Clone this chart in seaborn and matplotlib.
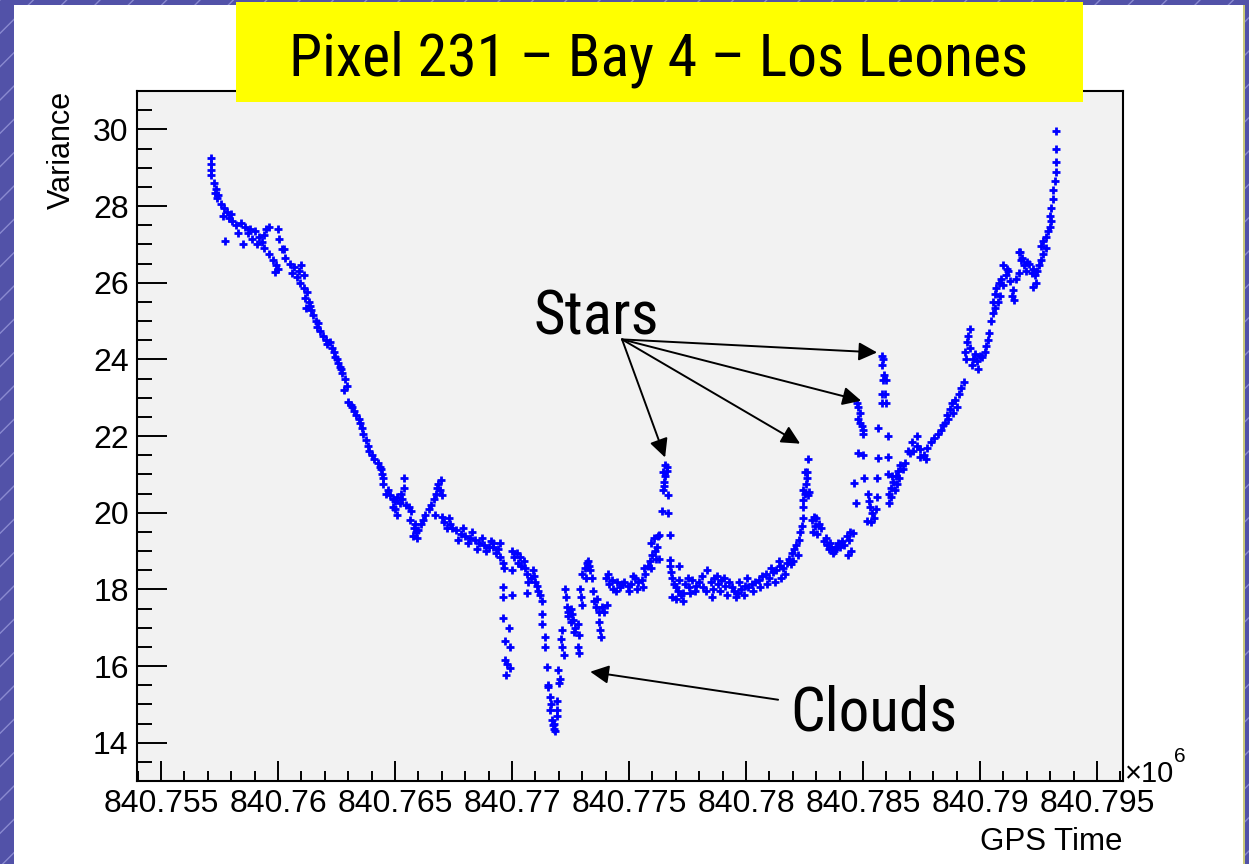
import numpy as np
import pandas as pd
import matplotlib
matplotlib.use("Agg")
import matplotlib.pyplot as plt
import matplotlib.font_manager as fm
from matplotlib.patches import Rectangle
from matplotlib.ticker import FixedLocator, MultipleLocator, FuncFormatter
import seaborn as sns

# GPS time is stored as seconds after 840,755,000 ; variance in ADC^2
GPS_BASE = 840755000

seg_descent = [
    (2130, 29.25), (2130, 29.1), (2130, 28.95), (2150, 28.8), (2250, 28.6), (2350, 28.45), (2300, 28.35),
    (2450, 28.3), (2400, 28.2), (2550, 28.05), (2700, 27.95), (2800, 27.85), (2650, 27.75), (2900, 27.7),
    (3000, 27.8), (2730, 27.08), (3500, 27.02), (3050, 27.6), (3200, 27.5), (3400, 27.55), (3600, 27.45),
    (3800, 27.4), (3300, 27.3), (3700, 27.3), (4000, 27.35), (4200, 27.2), (4400, 27.25), (4100, 27.0),
    (4300, 27.05), (4500, 27.4), (4600, 27.45), (3900, 27.15), (4400, 26.9), (4600, 26.75), (4800, 26.6),
    (4900, 26.45), (5000, 26.35), (4870, 26.27), (5000, 27.39), (5050, 27.13), (5150, 26.87), (5250, 26.87),
    (5300, 26.65), (5500, 26.5), (5700, 26.4), (5600, 26.25), (5900, 26.3), (6000, 26.45), (6100, 26.2),
    (5800, 26.15), (5950, 26.0), (6100, 25.85), (6250, 25.75), (6150, 25.6), (6300, 25.5), (6200, 25.35),
    (6350, 25.4), (6400, 25.3), (6500, 25.15), (6600, 25.0), (6700, 24.95), (6650, 24.85), (6800, 24.75),
    (6900, 24.6), (7050, 24.5), (7100, 24.4), (7200, 24.45), (7300, 24.3), (7400, 24.2), (7450, 24.05),
    (7500, 24.0), (7550, 23.9), (7650, 23.8), (7700, 23.75), (7750, 23.65), (7850, 23.5), (7950, 23.3),
    (7800, 23.2), (8000, 22.9), (8150, 22.75), (8100, 22.8), (8250, 22.65), (8350, 22.55), (8450, 22.45),
    (8500, 22.35), (8600, 22.2), (8650, 22.05), (8750, 21.9), (8850, 21.75), (8900, 21.6), (9000, 21.5),
    (9100, 21.4), (9250, 21.3), (9350, 21.2),
]

seg_bumps = [
    (9400, 21.15), (9450, 21.0), (9500, 20.9), (10400, 20.9), (9500, 20.75), (9700, 20.6), (9800, 20.45),
    (9900, 20.35), (10000, 20.3), (10100, 20.4), (10300, 20.35), (10450, 20.2), (10600, 20.15), (10700, 20.05),
    (10000, 20.1), (10250, 20.5), (10400, 20.65), (9900, 20.15), (10100, 19.95), (9600, 20.5), (10200, 20.25),
    (10650, 19.8), (10800, 19.6), (10900, 19.5), (11000, 19.55), (10750, 19.4), (10950, 19.35), (11100, 19.7),
    (11200, 19.8), (10850, 19.7), (11300, 19.95), (11450, 20.1), (11550, 20.2), (11650, 20.35), (11750, 20.5),
    (11800, 20.65), (11850, 20.75), (11900, 20.6), (12000, 20.45), (11700, 19.95), (11950, 20.85),
    (12000, 19.9), (12100, 19.75), (12200, 19.6), (12350, 19.7), (12450, 19.6), (12300, 19.85),
    (12600, 19.55), (12800, 19.45), (13000, 19.4), (13200, 19.35), (13400, 19.3), (13600, 19.2), (13800, 19.15),
    (14000, 19.1), (14200, 19.1), (14400, 19.05), (12900, 19.6), (13300, 19.5), (13700, 19.35), (14100, 19.25),
    (13500, 19.05), (13900, 19.0), (14300, 18.95), (14500, 19.2), (12700, 19.3), (13100, 19.2), (14200, 19.2),
]

seg_clouds = [
    (14500, 18.85), (14600, 18.7), (14650, 18.55), (15000, 19.0), (15100, 18.85), (15250, 18.7), (15400, 18.6),
    (15550, 18.55), (15650, 18.4), (15800, 18.3), (15200, 18.95), (15500, 18.75), (15000, 18.5), (15350, 18.85),
    (14600, 18.05), (14600, 17.8), (15000, 17.85), (14600, 17.25), (14850, 17.0), (14700, 16.65), (14900, 16.5),
    (14700, 16.15), (14800, 16.05), (14900, 15.95), (14750, 15.77), (15700, 18.2), (15650, 17.9),
    (15900, 18.5), (15950, 18.35), (16000, 18.2), (16050, 18.1), (16100, 17.95), (16200, 17.85), (16300, 17.7),
    (16300, 17.35), (16300, 17.1), (16400, 16.75), (16400, 16.5), (16500, 15.98), (16550, 15.5), (16550, 15.45),
    (16600, 15.2), (16650, 15.0), (16600, 14.85), (16700, 14.6), (16750, 14.45), (16800, 14.35), (16850, 14.3),
    (16800, 14.5), (16900, 15.1), (16900, 14.85), (16900, 14.7), (16950, 15.9), (17050, 15.65), (17000, 15.55),
    (17100, 16.7), (17150, 16.5), (17200, 16.3), (17150, 16.95), (17250, 18.0), (17300, 17.8), (17350, 17.55),
    (17400, 17.4), (17400, 17.3), (17500, 17.15), (17600, 17.2), (17700, 17.0), (17800, 17.1), (17500, 17.5),
    (17650, 16.9), (17850, 16.8), (17550, 17.35), (17800, 16.5), (17850, 16.35), (17900, 18.0), (17950, 17.8),
    (18000, 17.6), (18000, 18.4), (18100, 18.55), (18200, 18.7), (18250, 18.75), (18350, 18.5), (18400, 18.3),
    (18150, 18.3), (18300, 18.6), (18450, 17.95), (18500, 17.7), (18600, 17.55), (18700, 17.4), (18650, 17.75),
    (18700, 17.15), (18750, 16.95), (18800, 16.75), (18850, 17.55), (18950, 17.4), (19050, 17.6),
]

seg_plateau = [
    (19000, 18.3), (19150, 18.15), (19300, 18.0), (19450, 17.95), (19600, 18.05), (19700, 18.15), (19100, 18.4),
    (19250, 18.25), (19500, 18.2), (19800, 18.2), (19950, 18.1), (20100, 18.15), (20250, 18.3), (20400, 18.2),
    (20550, 18.25), (20700, 18.4), (20000, 17.95), (20350, 18.0), (20150, 18.35), (20600, 18.05),
    (20800, 18.6), (20900, 18.75), (21000, 18.9), (21100, 19.0), (21200, 19.1), (20950, 18.55), (21150, 18.8),
    (20650, 18.55), (20950, 19.2), (21050, 19.35), (21250, 19.4), (21300, 19.42), (21750, 19.42), (21300, 18.8),
    (21400, 20.05), (21650, 20.0), (21650, 20.47), (21450, 20.6), (21500, 20.8), (21550, 20.95), (21600, 21.1),
    (21550, 21.25), (21600, 21.2), (21500, 20.7), (21450, 21.05),
    (21750, 18.77), (21750, 18.6), (21800, 18.45), (21850, 18.3), (21900, 18.15), (22000, 18.05), (22100, 17.95),
    (22200, 17.85), (22300, 17.9), (22000, 17.75), (22150, 18.25), (21850, 17.8), (22300, 17.7), (22150, 18.6),
    (22400, 18.15), (22550, 18.05), (22700, 18.25), (22850, 18.1), (23000, 18.2), (23150, 18.05), (23300, 17.95),
    (22600, 17.9), (23100, 18.35), (23350, 18.5), (22500, 18.3), (22800, 17.95),
    (23500, 18.2), (23650, 18.3), (23800, 18.15), (23950, 18.25), (24100, 18.1), (24250, 18.2), (24400, 18.05),
    (23600, 18.0), (23900, 17.95), (24200, 17.85), (23550, 17.8), (23750, 18.35), (24050, 18.3),
    (24500, 17.95), (24650, 17.9), (24800, 18.0), (24950, 18.1), (25100, 18.05), (25250, 18.15), (25400, 18.2),
    (24700, 18.2), (25050, 18.3), (24550, 17.8), (24900, 17.85), (25300, 17.95),
    (25550, 18.25), (25700, 18.35), (25850, 18.4), (26000, 18.3), (26150, 18.45), (26300, 18.5), (26450, 18.6),
    (26600, 18.55), (26750, 18.7), (25900, 18.15), (26250, 18.2), (26500, 18.3), (25600, 18.05), (26050, 18.55),
    (26400, 18.75), (26650, 18.4), (26850, 18.8), (26950, 18.95), (27050, 19.05), (27150, 19.15), (27250, 19.3),
    (26900, 18.65), (27000, 18.75), (27200, 18.9),
]

seg_stars = [
    (27300, 19.5), (27400, 19.65), (27450, 19.87), (27420, 20.33), (27420, 20.15), (27450, 20.6), (27550, 20.75),
    (27600, 20.9), (27500, 21.05), (27650, 20.45), (27700, 20.55), (27600, 21.05), (27650, 21.4), (27500, 20.5),
    (27800, 19.8), (27900, 19.9), (28000, 19.85), (28100, 19.7), (28200, 19.6), (27850, 19.5), (28050, 19.45),
    (27950, 19.65), (28350, 19.25), (28450, 19.15), (28550, 19.05), (28650, 19.1), (28750, 19.0), (28850, 19.1),
    (28950, 19.2), (28400, 19.35), (28600, 19.2), (28800, 19.05), (29000, 19.1), (29200, 19.15), (29400, 19.3),
    (29500, 19.0), (28700, 18.95), (29300, 19.4), (29350, 18.9), (29100, 19.25), (29450, 19.5),
    (29550, 19.48), (29700, 20.26), (29600, 20.78), (29800, 21.55), (30000, 21.5),
    (29750, 22.85), (29800, 22.75), (29850, 22.6), (29800, 22.45), (29850, 22.35), (29950, 22.25), (30000, 22.15),
    (30000, 22.05), (30050, 20.9), (30200, 20.5), (30250, 20.3), (30300, 20.15), (30400, 20.0), (30450, 19.85),
    (30350, 19.75), (30550, 20.1), (30600, 20.4), (30150, 19.77), (30600, 20.9), (30650, 21.43), (30650, 22.2),
    (30800, 24.1), (30850, 24.0), (30800, 23.85), (30900, 23.6), (30850, 23.45), (31000, 23.45), (30800, 23.1),
    (30950, 23.1), (31000, 22.85), (30800, 22.85), (31050, 22.0), (31050, 21.46), (31050, 21.0),
]

seg_rise = [
    (31100, 20.5), (31200, 20.65), (31300, 20.8), (31400, 20.95), (31500, 21.1), (31600, 21.25), (31200, 20.4),
    (31350, 20.6), (31100, 20.25), (31250, 20.95), (31450, 20.75), (31700, 21.15), (31800, 21.3), (31550, 20.9),
    (32000, 21.55), (32150, 21.6), (32300, 21.75), (32450, 21.65), (32600, 21.5), (32750, 21.7), (32900, 21.85),
    (33050, 21.95), (33200, 22.05), (32450, 21.45), (32100, 21.85), (32300, 22.0), (31900, 21.6), (32700, 21.4),
    (33350, 22.15), (33500, 22.35), (33600, 22.55), (33700, 22.7), (33800, 22.85), (33950, 22.95), (34100, 23.1),
    (34200, 23.25), (33650, 22.45), (34000, 22.75), (34300, 23.4), (33400, 22.3), (33850, 22.6),
    (34350, 24.2), (34450, 24.45), (34500, 24.6), (34550, 24.3), (34700, 24.0), (34850, 23.95), (35000, 24.1),
    (35100, 24.05), (34900, 23.75), (35200, 24.2), (35350, 24.5), (35400, 24.7), (34400, 24.0), (34650, 23.85),
    (34550, 24.78), (34800, 24.15), (35250, 24.35), (35450, 25.0), (35550, 25.2), (35650, 25.35), (35750, 25.5),
    (35550, 25.5), (35650, 25.7), (35700, 25.85), (35800, 26.0), (35900, 26.1), (36000, 25.95), (36100, 26.2),
    (36200, 26.3), (36300, 26.05), (36400, 25.8), (36450, 25.55), (36550, 26.1), (36650, 26.25), (35850, 25.65),
    (36150, 26.35), (36000, 26.45), (36350, 25.64), (36650, 26.8), (36750, 26.6), (36900, 26.45), (37000, 26.55),
    (37100, 26.5), (37250, 26.35), (37350, 26.2), (37400, 26.0), (37500, 26.45), (37600, 26.6), (37700, 26.75),
    (37800, 26.9), (37200, 26.25), (36800, 26.65), (36700, 26.8), (37250, 25.9), (36950, 26.3), (37450, 26.3),
    (37600, 26.95), (37700, 27.1), (37800, 27.2), (37900, 27.35), (38000, 27.45), (38050, 27.6),
    (38000, 27.73), (38050, 27.95), (38100, 28.17), (38100, 28.43), (38200, 28.64), (38250, 28.9),
    (38250, 29.16), (38250, 29.48), (38250, 29.95),
]

x_ticks = [840.755, 840.76, 840.765, 840.77, 840.775, 840.78, 840.785, 840.79, 840.795]
y_ticks = [14, 16, 18, 20, 22, 24, 26, 28, 30]

title = "Pixel 231 \u2013 Bay 4 \u2013 Los Leones"

# annotation anchors (seconds after GPS_BASE, variance)
stars_text = (15900, 24.65)
stars_origin = (19700, 24.52)
stars_tips = [(21540, 21.44), (27310, 21.8), (29920, 22.92), (30600, 24.18)]
clouds_text = (26880, 14.33)
clouds_origin = (26370, 15.12)
clouds_tip = (18340, 15.85)

rows = seg_descent + seg_bumps + seg_clouds + seg_plateau + seg_stars + seg_rise
df = pd.DataFrame(rows, columns=["t", "variance"])
df["gps"] = (GPS_BASE + df["t"]) / 1e6


def gx(t):
    return (GPS_BASE + t) / 1e6


def find_narrow():
    # look for a condensed sans face, the slide text is Helvetica Narrow
    prefs = ["Liberation Sans Narrow", "Arial Narrow", "Roboto Condensed", "Open Sans Condensed",
             "Noto Sans Condensed", "DejaVu Sans Condensed"]
    fonts = fm.fontManager.ttflist
    for p in prefs:
        for f in fonts:
            if f.name == p and f.weight in (400, "normal", "regular") and f.style == "normal":
                return fm.FontProperties(fname=f.fname)
    for f in fonts:
        st = str(f.stretch).lower()
        if ("condensed" in st or "narrow" in f.name.lower() or "condensed" in f.name.lower()) \
                and f.style == "normal" and f.weight in (400, "normal", "regular") \
                and "mono" not in f.name.lower() and "serif" not in f.name.lower().replace("sans", ""):
            return fm.FontProperties(fname=f.fname)
    return None


sns.set_style("ticks")
plt.rcParams["font.family"] = ["Liberation Sans", "DejaVu Sans"]
for k in ["text.color", "axes.labelcolor", "xtick.color", "ytick.color", "axes.edgecolor"]:
    plt.rcParams[k] = "black"

narrow = find_narrow()

W, H = 1249, 864
fig = plt.figure(figsize=(W / 100, H / 100), dpi=100)


def fxy(px, py):
    return px / W, 1 - py / H


# slide background + white canvas
fig.patches.append(Rectangle((0, 0), 1, 1, transform=fig.transFigure, facecolor="#5252a8",
                             edgecolor="#8a8ad0", hatch="/", lw=0, zorder=-20))
x0, y0 = fxy(14, 864)
x1, y1 = fxy(1243, 5)
fig.patches.append(Rectangle((x0, y0), x1 - x0, y1 - y0, transform=fig.transFigure,
                             facecolor="white", edgecolor="none", zorder=-19))
fig.patches.append(Rectangle((x1, 0), 1.5 / W, y1, transform=fig.transFigure,
                             facecolor="#c8c878", edgecolor="none", zorder=-18))

l, b = fxy(137, 781)
r, t = fxy(1123, 91)
ax = fig.add_axes([l, b, r - l, t - b])
ax.set_facecolor("#f2f2f2")

sns.scatterplot(data=df, x="gps", y="variance", marker="+", color="#0000ff",
                s=36, linewidth=2.0, ax=ax, legend=False, zorder=3)

ax.set_xlim(840.75397, 840.79611)
ax.set_ylim(13.0, 31.0)
ax.xaxis.set_major_locator(FixedLocator(x_ticks))
ax.xaxis.set_minor_locator(MultipleLocator(0.001))
ax.yaxis.set_major_locator(FixedLocator(y_ticks))
ax.yaxis.set_minor_locator(MultipleLocator(0.5))
ax.xaxis.set_major_formatter(FuncFormatter(lambda v, p: f"{v:g}"))
ax.yaxis.set_major_formatter(FuncFormatter(lambda v, p: f"{v:g}"))
ax.tick_params(axis="both", which="both", direction="in", top=False, right=False,
               width=1.4, color="black", labelsize=23, pad=6)
ax.tick_params(axis="x", which="major", length=14.5)
ax.tick_params(axis="x", which="minor", length=7.2)
ax.tick_params(axis="y", which="major", length=21.5)
ax.tick_params(axis="y", which="minor", length=10.8)
for sp in ax.spines.values():
    sp.set_color("black")
    sp.set_linewidth(1.5)

ax.set_xlabel("GPS Time", fontsize=22.5, loc="right")
ax.xaxis.set_label_coords(1.0, -(827 - 781) / 690)
ax.set_ylabel("Variance", fontsize=22, loc="top")
ax.yaxis.set_label_coords(-(137 - 77) / 986, 1.0)

# x10^6 multiplier
ax.text(1.002, -0.01, "\u00d710", transform=ax.transAxes, fontsize=21, ha="left", va="bottom")
ax.text(1.052, 0.022, "6", transform=ax.transAxes, fontsize=15, ha="left", va="bottom")

if narrow is not None:
    big = dict(fontproperties=narrow, fontsize=44)
    title_kw = dict(fontproperties=narrow, fontsize=43)
else:
    big = dict(fontsize=38)
    title_kw = dict(fontsize=38)

# annotations
ax.text(gx(stars_text[0]), stars_text[1], "Stars", ha="left", va="baseline", **big)
for tip in stars_tips:
    ax.annotate("", xy=(gx(tip[0]), tip[1]), xytext=(gx(stars_origin[0]), stars_origin[1]),
                arrowprops=dict(arrowstyle="-|>", color="black", lw=1.4, mutation_scale=28,
                                shrinkA=0, shrinkB=0))
ax.text(gx(clouds_text[0]), clouds_text[1], "Clouds", ha="left", va="baseline", **big)
ax.annotate("", xy=(gx(clouds_tip[0]), clouds_tip[1]), xytext=(gx(clouds_origin[0]), clouds_origin[1]),
            arrowprops=dict(arrowstyle="-|>", color="black", lw=1.4, mutation_scale=28,
                            shrinkA=0, shrinkB=0))

# title box
tx0, ty0 = fxy(236, 102)
tx1, ty1 = fxy(1083, 2)
fig.patches.append(Rectangle((tx0, ty0), tx1 - tx0, ty1 - ty0, transform=fig.transFigure,
                             facecolor="#ffff00", edgecolor="none", zorder=5))
fig.text(*fxy(659, 75), title, ha="center", va="baseline", zorder=6, **title_kw)

fig.savefig("out.png", dpi=100)
